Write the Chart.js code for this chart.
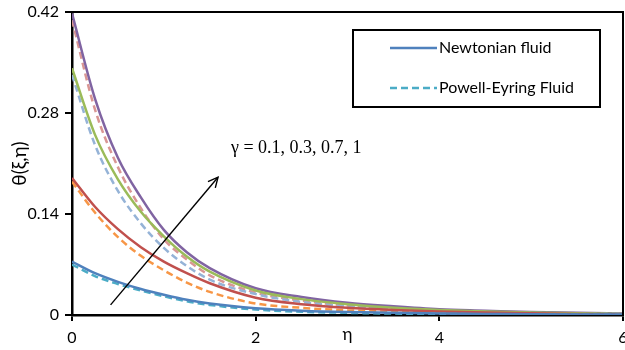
<!DOCTYPE html>
<html><head><meta charset="utf-8">
<script src="https://cdn.jsdelivr.net/npm/chart.js@4/dist/chart.umd.min.js"></script>
<style>html,body{margin:0;padding:0;background:#fff}#wrap{width:625px;height:350px}</style>
</head><body><div id="wrap"><canvas id="c" width="625" height="350"></canvas></div>
<script>
const eta = [0,0.25,0.5,0.75,1,1.25,1.5,2,2.5,3,3.5,4,4.5,5,5.5,6];
const xTicks = [0,2,4,6];
const yTicks = [0,0.14,0.28,0.42];
// Newtonian fluid (solid) and Powell-Eyring fluid (dashed) for gamma = 0.1, 0.3, 0.7, 1
const newt01 = [0.074,0.058,0.046,0.036,0.028,0.021,0.016,0.0095,0.006,0.004,0.003,0.002,0.0015,0.001,0.0007,0.0005];
const pe01   = [0.070,0.054,0.043,0.034,0.026,0.019,0.014,0.0075,0.0045,0.003,0.002,0.0015,0.001,0.0007,0.0005,0.0003];
const newt03 = [0.190,0.150,0.119,0.094,0.074,0.058,0.044,0.024,0.015,0.010,0.007,0.005,0.0035,0.0025,0.0015,0.001];
const pe03   = [0.185,0.142,0.108,0.082,0.062,0.045,0.032,0.016,0.010,0.0065,0.0045,0.003,0.002,0.0015,0.001,0.0007];
const newt07 = [0.342,0.250,0.188,0.143,0.109,0.081,0.060,0.034,0.022,0.015,0.010,0.007,0.005,0.0035,0.0025,0.0015];
const pe07   = [0.333,0.236,0.172,0.127,0.093,0.068,0.049,0.029,0.018,0.012,0.008,0.0055,0.004,0.003,0.002,0.0015];
const newt10 = [0.418,0.300,0.218,0.163,0.118,0.087,0.065,0.037,0.025,0.017,0.012,0.008,0.006,0.004,0.003,0.002];
const pe10   = [0.409,0.285,0.205,0.148,0.105,0.077,0.055,0.031,0.020,0.013,0.009,0.006,0.0045,0.003,0.002,0.0015];
const legendLabels = ['Newtonian fluid','Powell-Eyring Fluid'];
const gammaText = 'γ = 0.1, 0.3, 0.7, 1';

const pts = arr => arr.map((v,i)=>({x:eta[i],y:v}));
function ds(data,color,dashed){
  return {data:pts(data),borderColor:color,backgroundColor:color,borderWidth:2.5,
    borderDash:dashed?[7,4]:[],pointRadius:0,cubicInterpolationMode:'monotone',fill:false};
}
const datasets = [
  ds(newt01,'#4F81BD',false), ds(pe01,'#4BACC6',true),
  ds(newt03,'#C0504D',false), ds(pe03,'#F79646',true),
  ds(newt07,'#9BBB59',false), ds(pe07,'#95B3D7',true),
  ds(newt10,'#8064A2',false), ds(pe10,'#D99694',true)
];

const deco = {
  id:'deco',
  afterDraw(chart){
    const {ctx, chartArea:a, scales:{x,y}} = chart;
    ctx.save();
    // frame
    ctx.strokeStyle='#000'; ctx.lineWidth=2;
    ctx.beginPath(); ctx.moveTo(a.left,a.top); ctx.lineTo(a.right,a.top); ctx.lineTo(a.right,a.bottom); ctx.stroke();
    // arrow
    const x0=x.getPixelForValue(0.42), y0=y.getPixelForValue(0.014);
    const x1=x.getPixelForValue(1.59), y1=y.getPixelForValue(0.191);
    ctx.lineWidth=1.4; ctx.beginPath(); ctx.moveTo(x0,y0); ctx.lineTo(x1,y1); ctx.stroke();
    const ang=Math.atan2(y1-y0,x1-x0), L=11;
    ctx.beginPath();
    ctx.moveTo(x1-L*Math.cos(ang-0.45),y1-L*Math.sin(ang-0.45));
    ctx.lineTo(x1,y1);
    ctx.lineTo(x1-L*Math.cos(ang+0.45),y1-L*Math.sin(ang+0.45));
    ctx.stroke();
    // gamma text
    ctx.fillStyle='#000'; ctx.font='18px "Liberation Serif"'; ctx.textBaseline='middle'; ctx.textAlign='left';
    ctx.fillText(gammaText, 231, 148);
    // eta axis label
    ctx.font='17px Lato'; ctx.textAlign='center';
    ctx.fillText('η', (a.left+a.right)/2, 335);
    // legend
    const bx=353, by=30, bw=247, bh=77;
    ctx.fillStyle='#fff'; ctx.fillRect(bx,by,bw,bh);
    ctx.lineWidth=2; ctx.strokeStyle='#000'; ctx.strokeRect(bx,by,bw,bh);
    const items=[[0,48],[1,88]];
    items.forEach(([di,yy],k)=>{
      const d=chart.data.datasets[di];
      ctx.strokeStyle=d.borderColor; ctx.lineWidth=2.5; ctx.setLineDash(d.borderDash);
      ctx.beginPath(); ctx.moveTo(390,yy); ctx.lineTo(437,yy); ctx.stroke();
      ctx.setLineDash([]);
      ctx.fillStyle='#000'; ctx.font='16px Lato'; ctx.textAlign='left'; ctx.textBaseline='middle';
      ctx.fillText(legendLabels[k],439,yy);
    });
    ctx.restore();
  }
};

new Chart(document.getElementById('c'),{
  type:'line',
  data:{datasets},
  options:{
    responsive:false, animation:false, events:[],
    layout:{padding:{top:12,right:2,left:0,bottom:0}},
    plugins:{legend:{display:false},tooltip:{enabled:false}},
    scales:{
      x:{type:'linear',min:0,max:6,
        afterBuildTicks:s=>{s.ticks=xTicks.map(v=>({value:v}));},
        afterFit:s=>{s.height=35;s.paddingLeft=0;s.paddingRight=0;},
        grid:{drawOnChartArea:false,drawTicks:true,tickLength:6,color:'#000',lineWidth:2},
        border:{display:true,color:'#000',width:2.5},
        ticks:{color:'#000',font:{family:'Lato',size:16},padding:7,maxRotation:0,autoSkip:false}
      },
      y:{type:'linear',min:0,max:0.42,
        afterBuildTicks:s=>{s.ticks=yTicks.map(v=>({value:v}));},
        afterFit:s=>{s.width=72;s.paddingTop=0;s.paddingBottom=0;},
        grid:{drawOnChartArea:false,drawTicks:true,tickLength:7,color:'#000',lineWidth:2},
        border:{display:true,color:'#000',width:2.5},
        ticks:{color:'#000',font:{family:'Lato',size:16},padding:6,callback:v=>String(+v.toFixed(2))},
        title:{display:true,text:'θ(ξ,η)',color:'#000',font:{family:'Lato',size:19},padding:{top:8,bottom:0}}
      }
    }
  },
  plugins:[deco]
});
</script></body></html>
